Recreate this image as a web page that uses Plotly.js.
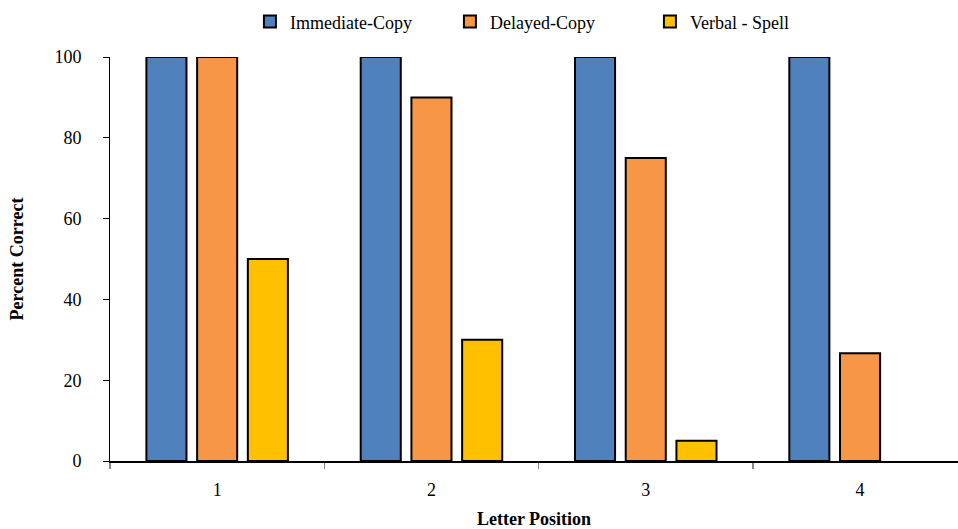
<!DOCTYPE html>
<html>
<head>
<meta charset="utf-8">
<script src="https://cdn.plot.ly/plotly-3.0.1.min.js"></script>
<style>html,body{margin:0;padding:0;background:#fff;}#chart{width:958px;height:529px;}</style>
</head>
<body>
<div id="chart"></div>
<script>
const categories = ["1", "2", "3", "4"];
const immediateCopy = [100, 100, 100, 100];
const delayedCopy = [100, 90, 75, 26.7];
const verbalSpell = [50, 30, 5, null];
const seriesNames = ["Immediate-Copy", "Delayed-Copy", "Verbal - Spell"];
const yTicks = [0, 20, 40, 60, 80, 100];

const colors = ["#4F81BD", "#F79646", "#FFC000"];
const seriesData = [immediateCopy, delayedCopy, verbalSpell];
const font = {family: "Liberation Serif, Times New Roman, serif", size: 18, color: "#000"};

const traces = seriesData.map((vals, i) => ({
  type: "bar",
  name: seriesNames[i],
  x: categories,
  y: vals,
  marker: {color: colors[i], line: {color: "#000", width: 2}},
  hoverinfo: "x+y+name"
}));

const layout = {
  width: 958, height: 529,
  margin: {l: 110, r: 0, t: 57, b: 68},
  paper_bgcolor: "#fff", plot_bgcolor: "#fff",
  font: font,
  barmode: "group",
  bargap: 0.29,
  bargroupgap: 0.21,
  showlegend: true,
  legend: {orientation: "h", x: 0.165, xanchor: "left", y: 1.087, yanchor: "middle",
           font: font, itemwidth: 30, traceorder: "normal",
           entrywidth: 155, entrywidthmode: "pixels"},
  xaxis: {
    type: "category",
    range: [-0.5, 3.457],
    tickson: "boundaries",
    ticks: "outside", ticklen: 6, tickcolor: "#888", tickwidth: 1.5,
    showline: true, linecolor: "#000", linewidth: 1.5,
    showgrid: false, zeroline: false,
    tickfont: font,
    ticklabelstandoff: 12,
    title: {text: "<b>Letter Position</b>", font: font, standoff: 18}
  },
  yaxis: {
    range: [0, 100],
    tickvals: yTicks,
    ticks: "outside", ticklen: 6, tickcolor: "#000", tickwidth: 1,
    showline: true, linecolor: "#000", linewidth: 1,
    showgrid: false, zeroline: false,
    tickfont: font,
    ticklabelstandoff: 18,
    title: {text: "<b>Percent Correct</b>", font: font, standoff: 26}
  }
};

Plotly.newPlot("chart", traces, layout, {displayModeBar: false, staticPlot: true});
</script>
</body>
</html>
